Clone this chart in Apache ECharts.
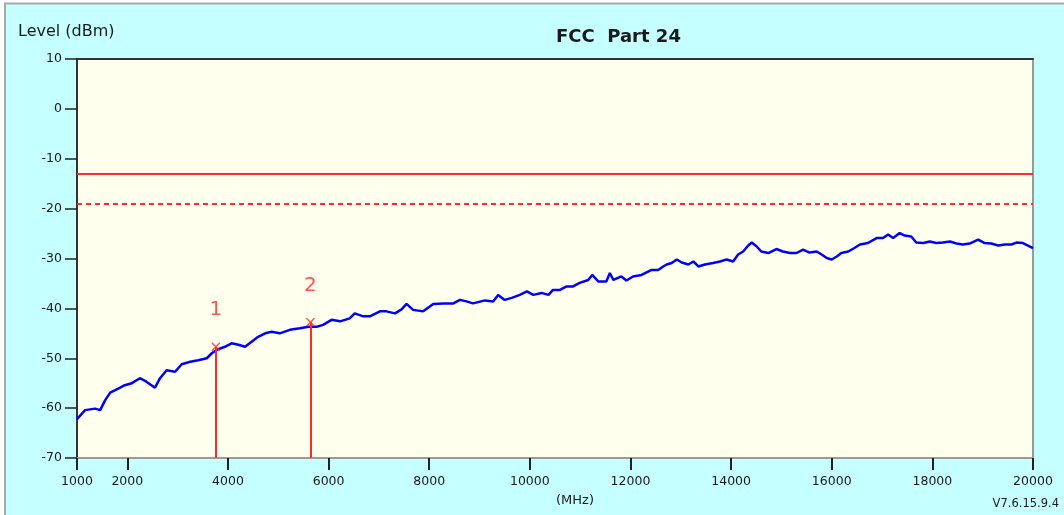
<!DOCTYPE html>
<html>
<head>
<meta charset="utf-8">
<title>FCC Part 24</title>
<script src="https://cdn.jsdelivr.net/npm/echarts@6/dist/echarts.min.js"></script>
<style>
  html, body { margin: 0; padding: 0; background: #ffffff; }
  #chart { width: 1064px; height: 515px; }
</style>
</head>
<body>
<div id="chart"></div>
<script>
// Sweep trace: frequency (MHz) and measured level (dBm)
const freqMHz = [
  1000, 1160, 1360, 1460, 1560, 1660, 1820, 1950, 2090, 2250,
  2380, 2550, 2650, 2780, 2950, 3080, 3250, 3410, 3580, 3680,
  3780, 3940, 4070, 4210, 4340, 4470, 4600, 4740, 4870, 5030,
  5230, 5430, 5600, 5760, 5890, 6060, 6230, 6420, 6520, 6690,
  6820, 7020, 7150, 7320, 7450, 7550, 7680, 7880, 8080, 8280,
  8480, 8610, 8740, 8870, 9110, 9270, 9370, 9500, 9640, 9800,
  9940, 10070, 10230, 10370, 10460, 10600, 10730, 10860, 10990, 11160,
  11240, 11360, 11520, 11590, 11660, 11820, 11920, 12050, 12220, 12320,
  12420, 12550, 12650, 12720, 12820, 12920, 13020, 13150, 13250, 13350,
  13480, 13640, 13780, 13910, 14040, 14140, 14240, 14340, 14410, 14510,
  14600, 14740, 14900, 15030, 15170, 15300, 15430, 15560, 15700, 15800,
  15900, 16000, 16100, 16190, 16330, 16450, 16560, 16720, 16890, 17020,
  17120, 17220, 17350, 17450, 17580, 17680, 17820, 17950, 18080, 18210,
  18350, 18480, 18610, 18740, 18910, 19040, 19170, 19310, 19440, 19570,
  19670, 19800, 19900, 20000
];
const levelDbm = [
  -62.2, -60.4, -60.1, -60.4, -58.4, -56.9, -56.1, -55.4, -55.0, -54.0,
  -54.7, -55.9, -54.0, -52.4, -52.7, -51.2, -50.7, -50.4, -50.0, -49.0,
  -48.3, -47.7, -47.0, -47.3, -47.7, -46.7, -45.7, -45.0, -44.7, -45.0,
  -44.3, -44.0, -43.7, -43.7, -43.3, -42.3, -42.6, -42.0, -41.0, -41.6,
  -41.6, -40.6, -40.6, -41.0, -40.2, -39.1, -40.3, -40.6, -39.1, -39.0,
  -39.0, -38.3, -38.6, -39.0, -38.4, -38.6, -37.3, -38.3, -37.9, -37.3,
  -36.6, -37.3, -36.9, -37.3, -36.3, -36.3, -35.6, -35.6, -34.9, -34.3,
  -33.3, -34.6, -34.6, -32.9, -34.3, -33.6, -34.4, -33.6, -33.3, -32.8,
  -32.3, -32.3, -31.6, -31.2, -30.9, -30.2, -30.8, -31.2, -30.6, -31.6,
  -31.2, -30.9, -30.6, -30.2, -30.6, -29.2, -28.6, -27.4, -26.8, -27.6,
  -28.6, -28.9, -28.1, -28.6, -28.9, -28.9, -28.2, -28.8, -28.6, -29.2,
  -29.9, -30.2, -29.6, -28.9, -28.6, -27.9, -27.2, -26.9, -25.9, -25.9,
  -25.2, -25.9, -24.9, -25.4, -25.6, -26.8, -26.9, -26.6, -26.9, -26.8,
  -26.6, -27.0, -27.2, -27.0, -26.2, -26.9, -27.0, -27.4, -27.2, -27.2,
  -26.8, -26.9, -27.4, -27.9
];

// Limit lines (dBm)
const limitLevel = -13;
const marginLevel = -19;

// Markers
const markerNames = ['1', '2'];
const markerFreq = [3760, 5640];
const markerLevel = [-47.7, -42.8];

// Axis setup
const xTickValues = [1000, 2000, 4000, 6000, 8000, 10000, 12000, 14000, 16000, 18000, 20000];
const yMin = -70, yMax = 10, yStep = 10;

const FONT = 'DejaVu Sans';
const RED = '#ff2a2a';
const TEXT = '#1a1a1a';

const chart = echarts.init(document.getElementById('chart'), null, { renderer: 'canvas' });

const trace = freqMHz.map((f, i) => [f, levelDbm[i]]);
const markerPoints = markerFreq.map((f, i) => ({ name: markerNames[i], value: [f, markerLevel[i]] }));
const markerDrops = markerFreq.map((f, i) => [
  { coord: [f, markerLevel[i]] },
  { coord: [f, yMin] }
]);

chart.setOption({
  backgroundColor: '#c6ffff',
  animation: false,
  textStyle: { fontFamily: FONT },
  title: [
    {
      text: 'FCC  Part 24',
      left: 551, top: 23,
      textStyle: { fontFamily: FONT, fontSize: 18, fontWeight: 'bold', color: TEXT }
    },
    {
      text: 'Level (dBm)',
      left: 13, top: 19,
      textStyle: { fontFamily: FONT, fontSize: 16, fontWeight: 'normal', color: TEXT }
    },
    {
      text: 'V7.6.15.9.4',
      right: 0, top: 493,
      textStyle: { fontFamily: FONT, fontSize: 11.5, fontWeight: 'normal', color: TEXT }
    }
  ],
  graphic: [
    { type: 'rect', shape: { x: 0, y: 0, width: 5, height: 515 }, style: { fill: '#ffffff' }, silent: true },
    { type: 'rect', shape: { x: 0, y: 0, width: 1064, height: 3 }, style: { fill: '#ffffff' }, silent: true },
    { type: 'polyline', shape: { points: [[5, 515], [5, 3.5], [1064, 3.5]] }, style: { stroke: '#a8a8a8', lineWidth: 2, fill: null }, silent: true }
  ],
  grid: {
    left: 77, right: 31, top: 59, bottom: 57,
    show: true,
    backgroundColor: '#ffffee',
    borderColor: '#9a9a9a',
    borderWidth: 2
  },
  xAxis: [
    {
      type: 'value',
      min: 1000, max: 20000,
      position: 'bottom',
      axisLine: { show: true, onZero: false, lineStyle: { color: '#9a9a9a', width: 2 } },
      axisTick: {
        show: true, length: 12, inside: false,
        customValues: xTickValues,
        lineStyle: { color: '#222', width: 2 }
      },
      axisLabel: {
        customValues: xTickValues,
        margin: 17,
        formatter: v => String(v),
        fontFamily: FONT, fontSize: 12.5, color: TEXT
      },
      splitLine: { show: false },
      name: '(MHz)',
      nameLocation: 'middle',
      nameGap: 36,
      nameTextStyle: { fontFamily: FONT, fontSize: 13, color: TEXT, padding: [0, 0, 0, 40] }
    },
    {
      type: 'value',
      min: 1000, max: 20000,
      position: 'top',
      axisLine: { show: true, onZero: false, lineStyle: { color: '#333', width: 2 } },
      axisTick: { show: false },
      axisLabel: { show: false },
      splitLine: { show: false }
    }
  ],
  yAxis: {
    type: 'value',
    min: yMin, max: yMax, interval: yStep,
    axisLine: { show: true, onZero: false, lineStyle: { color: '#333', width: 2 } },
    axisTick: { show: true, length: 12, lineStyle: { color: '#222', width: 1.5 } },
    axisLabel: { margin: 15, fontFamily: FONT, fontSize: 12.5, color: TEXT },
    splitLine: { show: false }
  },
  series: [
    {
      name: 'Trace',
      type: 'line',
      data: trace,
      showSymbol: false,
      symbol: 'none',
      lineStyle: { color: '#0000ff', width: 2.5 },
      z: 3,
      markLine: {
        silent: true,
        symbol: 'none',
        label: { show: false },
        data: [
          { yAxis: limitLevel, lineStyle: { color: RED, width: 2, type: 'solid' } },
          { yAxis: marginLevel, lineStyle: { color: RED, width: 2, type: [5, 4] } }
        ]
      }
    },
    {
      name: 'Markers',
      type: 'scatter',
      data: markerPoints,
      symbol: 'path://M0,0L10,10M10,0L0,10',
      symbolSize: 8,
      itemStyle: { color: 'rgba(0,0,0,0)', borderColor: RED, borderWidth: 1.5 },
      label: {
        show: true,
        position: 'top',
        distance: 22,
        formatter: p => p.name,
        fontFamily: FONT, fontSize: 20, color: RED
      },
      z: 4,
      markLine: {
        silent: true,
        symbol: 'none',
        label: { show: false },
        lineStyle: { color: RED, width: 2, type: 'solid' },
        data: markerDrops
      }
    }
  ]
});
</script>
</body>
</html>
